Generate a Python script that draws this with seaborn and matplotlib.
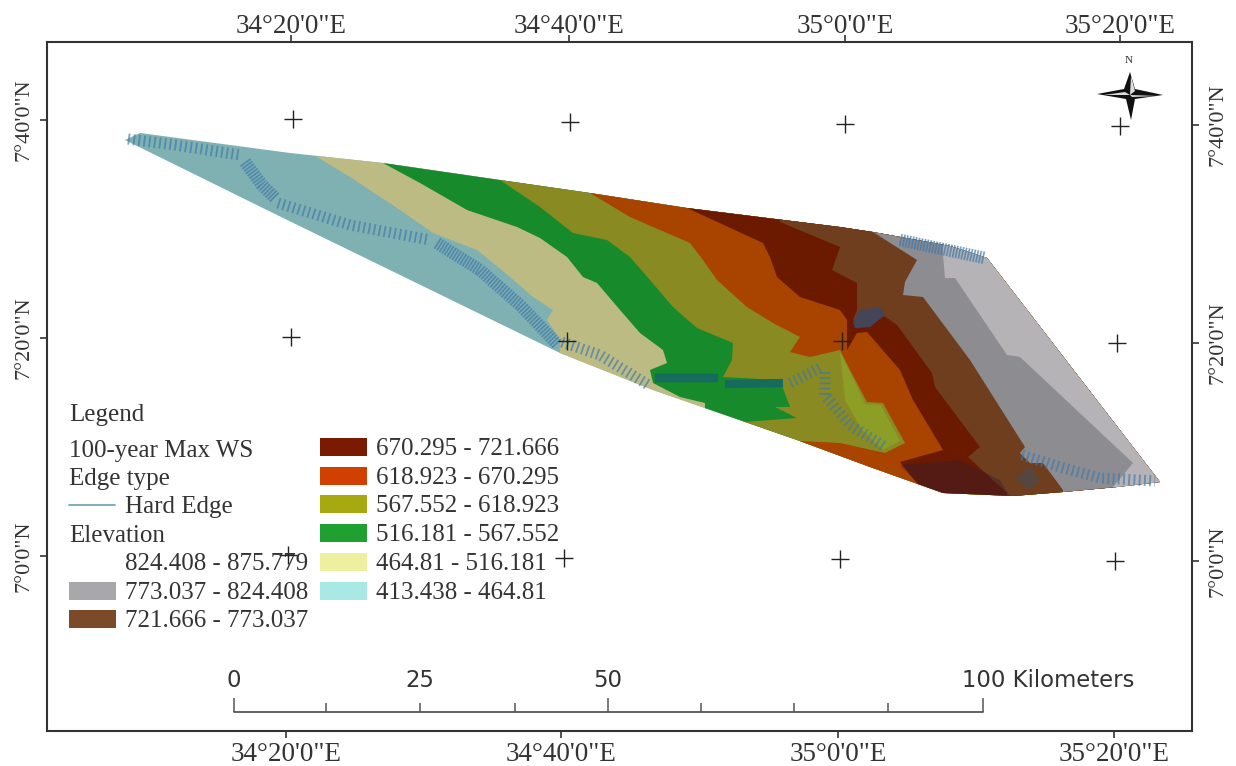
# 100-year max water surface map, drawn in the picture's pixel coordinates
import matplotlib
matplotlib.use("Agg")
import matplotlib.pyplot as plt
from matplotlib.patches import Polygon, Rectangle
import pandas as pd
import seaborn as sns

sns.set_theme(style="white")
SERIF = "Liberation Serif"
SANS = "DejaVu Sans"

# graticule
lon_labels = ["34°20'0\"E", "34°40'0\"E", "35°0'0\"E", "35°20'0\"E"]
lat_labels = ["7°40'0\"N", "7°20'0\"N", "7°0'0\"N"]
bottom_ticks = [286, 561, 838, 1114]
top_ticks = [291, 569, 845, 1120]
left_ticks = [120, 338, 556]
right_ticks = [125, 343, 561]
cross_x = [293, 570, 845, 1120, 291, 567, 842, 1117, 288, 564, 840, 1115]
cross_y = [119, 122, 124, 126, 337, 341, 341, 343, 555, 558, 559, 561]

# outline of the floodplain
outline = [(125, 140), (140, 133), (290, 153), (383, 163), (500, 180), (590, 193), (687, 208),
           (840, 227), (873, 232), (950, 246), (987, 258), (1160, 482), (1117, 487), (1063, 492),
           (1013, 496), (943, 493), (870, 467), (797, 440), (653, 390), (560, 353), (277, 215)]

# elevation zones, painted west to east and clipped to the outline
zones = [
    ("#7fb0b2", [(100, 100), (1200, 100), (1200, 600), (100, 600)]),
    ("#bdbb84", [(317, 157), (350, 177), (400, 210), (433, 233), (477, 250), (510, 277), (533, 297),
                 (553, 310), (547, 320), (560, 340), (560, 420), (1200, 600), (1200, 100), (317, 100)]),
    ("#178a2c", [(383, 163), (420, 183), (467, 210), (517, 227), (540, 238), (567, 257), (583, 277),
                 (597, 283), (620, 310), (640, 333), (663, 350), (667, 363), (650, 370), (653, 383),
                 (680, 397), (705, 403), (705, 470), (1200, 600), (1200, 100), (383, 100)]),
    ("#8a8a22", [(500, 180), (540, 207), (573, 233), (607, 240), (630, 257), (650, 280), (673, 307),
                 (697, 328), (733, 343), (732, 360), (723, 377), (780, 380), (790, 407), (775, 407),
                 (797, 418), (745, 422), (745, 470), (1200, 600), (1200, 100), (500, 100)]),
    ("#a84300", [(590, 193), (630, 217), (690, 243), (703, 260), (717, 280), (747, 307), (773, 323),
                 (800, 337), (790, 352), (810, 357), (840, 350), (850, 370), (867, 402), (883, 403),
                 (905, 443), (885, 453), (840, 443), (800, 441), (800, 470), (1200, 600), (1200, 100),
                 (590, 100)]),
    ("#6b1a00", [(687, 208), (763, 243), (770, 257), (777, 277), (800, 297), (840, 310), (847, 320),
                 (847, 350), (857, 333), (867, 332), (900, 370), (913, 400), (943, 450), (900, 462),
                 (917, 483), (920, 510), (1200, 600), (1200, 100), (687, 100)]),
    ("#6f3e1e", [(780, 222), (840, 247), (832, 270), (857, 283), (857, 310), (853, 320), (880, 313),
                 (897, 325), (932, 373), (935, 387), (980, 447), (968, 457), (1007, 493), (1007, 520),
                 (1200, 600), (1200, 100), (780, 100)]),
    ("#8c8c91", [(873, 232), (917, 260), (905, 282), (903, 295), (923, 297), (970, 360), (1025, 447),
                 (1020, 453), (1030, 463), (1043, 463), (1063, 490), (1063, 520), (1200, 600),
                 (1200, 100), (873, 100)]),
    ("#b6b3b6", [(943, 255), (945, 278), (955, 278), (1007, 355), (1020, 357), (1133, 463), (1113, 487),
                 (1113, 520), (1200, 600), (1200, 100), (943, 100)]),
]
inner_olive = [(840, 352), (850, 372), (865, 404), (881, 405), (900, 441), (883, 450), (862, 430), (845, 400)]
slate_patch = [(853, 322), (860, 310), (880, 307), (885, 315), (870, 327), (855, 328)]
dark_patch = [(900, 465), (960, 460), (1000, 480), (1010, 497), (945, 495), (917, 483)]
brown_patch = [(1015, 478), (1030, 466), (1040, 480), (1028, 490)]

# hard edges, drawn as a wide dashed line so the dashes read as cross strokes
edges_blue = [
    [(128, 139), (175, 145), (240, 155)],
    [(278, 203), (350, 225), (430, 240)],
    [(562, 342), (600, 355), (650, 386)],
    [(790, 383), (820, 368)],
    [(825, 372), (825, 395), (850, 425), (885, 447)],
    [(1022, 455), (1060, 467), (1100, 478), (1155, 481)],
]
edges_dense = [
    [(245, 162), (262, 185), (275, 198)],
    [(437, 243), (480, 270), (520, 305), (558, 345)],
    [(900, 240), (985, 258)],
]
edges_teal = [[(655, 378), (718, 378)], [(725, 384), (783, 383)]]

# legend
left_rows = ["Legend", "100-year Max WS", "Edge type", "Elevation"]
left_rows_y = [415, 451, 479, 536]
elev_labels = ["824.408 - 875.779", "773.037 - 824.408", "721.666 - 773.037",
               "670.295 - 721.666", "618.923 - 670.295", "567.552 - 618.923",
               "516.181 - 567.552", "464.81 - 516.181", "413.438 - 464.81"]
elev_colors = ["#ffffff", "#a8a8aa", "#7b4a28", "#7a1a00", "#d04000", "#a8a810", "#1fa030", "#eef0a0", "#a8e8e5"]
elev_x = [69, 69, 69, 320, 320, 320, 320, 320, 320]
elev_y = [562, 591, 619, 447, 476, 504, 533, 562, 591]

# scale bar
bar_major = [234, 608, 983]
bar_minor = [326, 420, 515, 701, 794, 888]
bar_labels = ["0", "25", "50"]
bar_label_x = [234, 420, 608]

# north arrow
star_black = [(1097, 94), (1124, 89), (1130, 72), (1135, 89), (1163, 95), (1135, 99), (1131, 120),
              (1126, 99)]
star_white = [(1130, 95), (1135, 91), (1131, 76), (1130, 95), (1158, 96), (1132, 97), (1130, 95),
              (1125, 92), (1104, 95)]

fig = plt.figure(figsize=(12.36, 7.66), dpi=100)
ax = fig.add_axes([47 / 1236, 1 - 731 / 766, (1192 - 47) / 1236, (731 - 42) / 766])
ax.set_xlim(47, 1192)
ax.set_ylim(731, 42)

clip = Polygon(outline, closed=True, transform=ax.transData, facecolor="none", edgecolor="none")
ax.add_patch(clip)
for i, (colour, pts) in enumerate(zones):
    p = Polygon(pts, closed=True, facecolor=colour, edgecolor="none", zorder=2 + i * 0.01)
    ax.add_patch(p)
    p.set_clip_path(clip)
ax.add_patch(Polygon(inner_olive, closed=True, facecolor="#8c9e26", edgecolor="none", zorder=2.1))
ax.add_patch(Polygon(slate_patch, closed=True, facecolor="#45455a", edgecolor="none", zorder=2.2))
p = Polygon(dark_patch, closed=True, facecolor="#2a1a3a", edgecolor="none", alpha=0.35, zorder=2.2)
ax.add_patch(p)
p.set_clip_path(clip)
ax.add_patch(Polygon(brown_patch, closed=True, facecolor="#55463f", edgecolor="none", zorder=2.2))

for path in edges_blue:
    ax.plot([q[0] for q in path], [q[1] for q in path], color="#3f78a8", alpha=0.65, lw=8,
            linestyle=(0, (0.17, 0.3)), dash_capstyle="butt", zorder=3)
for path in edges_dense:
    ax.plot([q[0] for q in path], [q[1] for q in path], color="#3f78a8", alpha=0.7, lw=9,
            linestyle=(0, (0.14, 0.1)), dash_capstyle="butt", zorder=3)
for path in edges_teal:
    ax.plot([q[0] for q in path], [q[1] for q in path], color="#146b5e", lw=6, solid_capstyle="butt", zorder=3)

# graticule crosses
crosses = pd.DataFrame({"x": cross_x, "y": cross_y})
sns.scatterplot(data=crosses, x="x", y="y", marker="+", s=150, color="#222222", linewidth=1.0, ax=ax, zorder=4)
ax.set_xlabel("")
ax.set_ylabel("")

# frame and ticks
for side in ax.spines.values():
    side.set_linewidth(1.5)
    side.set_color("#333333")
tick_style = dict(length=5, width=1.2, color="#333333", labelcolor="#333333")
ax.set_xticks(bottom_ticks, lon_labels, fontsize=19.5, family=SERIF)
ax.set_yticks(left_ticks, lat_labels, fontsize=16, family=SERIF, rotation=90, va="center")
ax.tick_params(axis="x", pad=3, bottom=True, **tick_style)
ax.tick_params(axis="y", pad=5, left=True, **tick_style)
top = ax.secondary_xaxis("top")
top.set_xticks(top_ticks, lon_labels, fontsize=19.5, family=SERIF)
top.tick_params(pad=-3, top=True, **tick_style)
top.spines["top"].set_visible(False)
right = ax.secondary_yaxis("right")
right.set_yticks(right_ticks, lat_labels, fontsize=16, family=SERIF, rotation=90, va="center")
right.tick_params(pad=7, right=True, **tick_style)
right.spines["right"].set_visible(False)

# legend block
for label, y in zip(left_rows, left_rows_y):
    ax.text(69, y, label, fontsize=18, family=SERIF, color="#333333", va="center")
ax.plot([69, 115], [505, 505], color="#6aa0ac", lw=1.2)
ax.text(125, 507, "Hard Edge", fontsize=18, family=SERIF, color="#333333", va="center")
for label, colour, x, y in zip(elev_labels, elev_colors, elev_x, elev_y):
    ax.add_patch(Rectangle((x, y - 9), 47, 18, facecolor=colour, edgecolor="none", zorder=2))
    ax.text(x + 56, y + 2, label, fontsize=18, family=SERIF, color="#333333", va="center", zorder=5)

# scale bar
ax.plot([234, 983], [712, 712], color="#555555", lw=1.3)
ax.vlines(bar_major, 698, 712, color="#555555", lw=1.1)
ax.vlines(bar_minor, 703, 712, color="#555555", lw=1.1)
for label, x in zip(bar_labels, bar_label_x):
    ax.text(x, 681, label, fontsize=16.4, family=SANS, color="#333333", ha="center", va="center")
ax.text(962, 681, "100 Kilometers", fontsize=16.4, family=SANS, color="#333333", ha="left", va="center")

# north arrow
ax.add_patch(Polygon(star_black, closed=True, facecolor="#111111", edgecolor="none", zorder=5))
ax.add_patch(Polygon(star_white, closed=True, facecolor="#dddddd", edgecolor="none", zorder=6))
ax.text(1129, 61, "N", fontsize=8, family=SERIF, color="#333333", ha="center", va="center")

fig.savefig("out.png", dpi=100)
